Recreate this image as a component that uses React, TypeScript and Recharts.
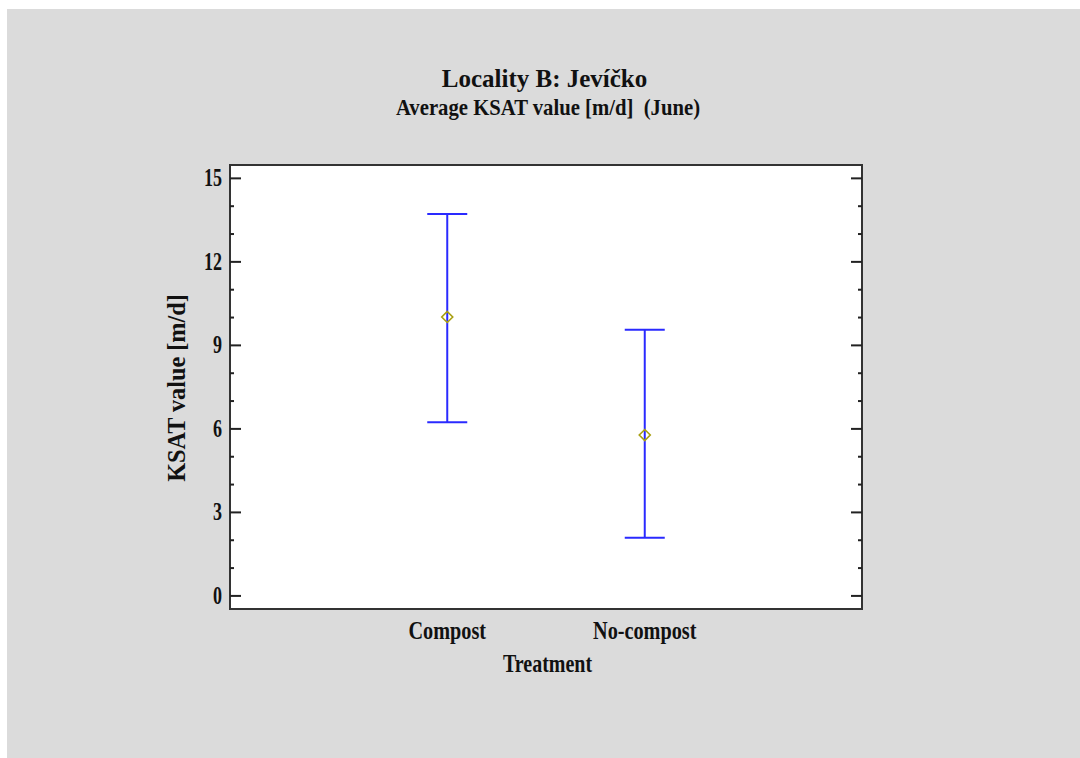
import React from "react";
import {
  ScatterChart,
  Scatter,
  ErrorBar,
  XAxis,
  YAxis,
  CartesianGrid,
  ReferenceArea,
  Label,
} from "recharts";

// ---------- data ----------
const TITLE = "Locality B: Jevíčko";
const SUBTITLE = "Average KSAT value [m/d]  (June)";
const X_TITLE = "Treatment";
const Y_TITLE = "KSAT value [m/d]";

const CATEGORIES = ["Compost", "No-compost"];
const MEANS = [10.02, 5.78];
const LOWER = [6.24, 2.09];
const UPPER = [13.72, 9.56];

const Y_TICKS = [0, 1, 2, 3, 4, 5, 6, 7, 8, 9, 10, 11, 12, 13, 14, 15];
const Y_LABEL_STEP = 3;
const Y_DOMAIN: [number, number] = [-0.47, 15.48];
const X_DOMAIN: [number, number] = [-0.1, 3.1];
const X_TICKS = CATEGORIES.map((_, i) => i + 1);

const TABLE = CATEGORIES.map((name, i) => ({
  name,
  pos: i + 1,
  mean: MEANS[i],
  err: [MEANS[i] - LOWER[i], UPPER[i] - MEANS[i]],
}));

// ---------- layout / style ----------
const CHART_W = 1073;
const CHART_H = 749;
const MARGIN = { top: 156, right: 218, bottom: 69, left: 143 };
const Y_AXIS_W = 80;
const X_AXIS_H = 80;
const PLOT_LEFT = MARGIN.left + Y_AXIS_W;
const PLOT_RIGHT = CHART_W - MARGIN.right;
const PLOT_BOTTOM = CHART_H - MARGIN.bottom - X_AXIS_H;
const PLOT_TOP = MARGIN.top;

const FONT = "'Liberation Serif', 'Times New Roman', serif";
const BG = "#dbdbdb";
const INK = "#111";
const BAR_BLUE = "#2a2aff";
const MARK = "#a89f10";

type CTextProps = {
  x: number;
  y: number;
  fs: number;
  sx: number;
  anchor?: "start" | "middle" | "end";
  rotate?: number;
  children: React.ReactNode;
};

const CText = ({ x, y, fs, sx, anchor = "middle", rotate = 0, children }: CTextProps) => (
  <text
    transform={`translate(${x},${y}) rotate(${rotate}) scale(${sx},1)`}
    x={0}
    y={0}
    textAnchor={anchor}
    fontSize={fs}
    fontWeight="bold"
    fontFamily={FONT}
    fill={INK}
    style={{ whiteSpace: "pre" }}
  >
    {children}
  </text>
);

const YTick = (props: any) => {
  const { y, payload } = props;
  const v = payload.value as number;
  const major = v % Y_LABEL_STEP === 0;
  const len = major ? 11 : 4;
  return (
    <g>
      <line x1={PLOT_LEFT} x2={PLOT_LEFT + len} y1={y} y2={y} stroke="#222" strokeWidth={2} />
      <line x1={PLOT_RIGHT - len} x2={PLOT_RIGHT} y1={y} y2={y} stroke="#222" strokeWidth={2} />
      {major && (
        <CText x={PLOT_LEFT - 8} y={y + 8} fs={25} sx={0.72} anchor="end">
          {v}
        </CText>
      )}
    </g>
  );
};

const XTick = (props: any) => {
  const { x, payload } = props;
  const label = CATEGORIES[(payload.value as number) - 1];
  return (
    <CText x={x} y={PLOT_BOTTOM + 30} fs={25} sx={0.81}>
      {label}
    </CText>
  );
};

const Diamond = (props: any) => {
  const { cx, cy } = props;
  if (cx == null || cy == null) return null;
  const r = 5.5;
  return (
    <polygon
      points={`${cx},${cy - r} ${cx + r},${cy} ${cx},${cy + r} ${cx - r},${cy}`}
      fill="none"
      stroke={MARK}
      strokeWidth={1.6}
    />
  );
};

export default function App() {
  return (
    <div
      style={{
        position: "absolute",
        left: 7,
        top: 9,
        width: CHART_W,
        height: CHART_H,
        background: BG,
        overflow: "hidden",
      }}
    >
      <svg
        width={CHART_W}
        height={140}
        style={{ position: "absolute", left: 0, top: 0 }}
      >
        <CText x={537.5} y={78} fs={25} sx={1.0}>
          {TITLE}
        </CText>
        <CText x={541} y={106} fs={23} sx={0.9}>
          {SUBTITLE}
        </CText>
      </svg>
      <div style={{ position: "absolute", left: 0, top: 0 }}>
        <ScatterChart width={CHART_W} height={CHART_H} margin={MARGIN}>
          <CartesianGrid horizontal={false} vertical={false} fill="#ffffff" />
          <XAxis
            type="number"
            dataKey="pos"
            domain={X_DOMAIN}
            allowDataOverflow
            ticks={X_TICKS}
            interval={0}
            axisLine={false}
            tickLine={false}
            tickSize={0}
            tickMargin={0}
            height={X_AXIS_H}
            tick={<XTick />}
          >
            <Label
              content={() => (
                <CText x={(PLOT_LEFT + PLOT_RIGHT) / 2 + 1.5} y={PLOT_BOTTOM + 63} fs={25} sx={0.8}>
                  {X_TITLE}
                </CText>
              )}
            />
          </XAxis>
          <YAxis
            type="number"
            dataKey="mean"
            domain={Y_DOMAIN}
            allowDataOverflow
            ticks={Y_TICKS}
            interval={0}
            axisLine={false}
            tickLine={false}
            tickSize={0}
            tickMargin={0}
            width={Y_AXIS_W}
            tick={<YTick />}
          >
            <Label
              content={() => (
                <CText x={178} y={(PLOT_TOP + PLOT_BOTTOM) / 2 + 1} fs={25} sx={0.97} rotate={-90}>
                  {Y_TITLE}
                </CText>
              )}
            />
          </YAxis>
          <ReferenceArea
            x1={X_DOMAIN[0]}
            x2={X_DOMAIN[1]}
            y1={Y_DOMAIN[0]}
            y2={Y_DOMAIN[1]}
            fill="#ffffff"
            fillOpacity={0}
            stroke="#333"
            strokeWidth={2}
            ifOverflow="visible"
          />
          <Scatter data={TABLE} shape={<Diamond />} isAnimationActive={false}>
            <ErrorBar
              dataKey="err"
              direction="y"
              width={20}
              stroke={BAR_BLUE}
              strokeWidth={2}
              isAnimationActive={false}
            />
          </Scatter>
        </ScatterChart>
      </div>
    </div>
  );
}
